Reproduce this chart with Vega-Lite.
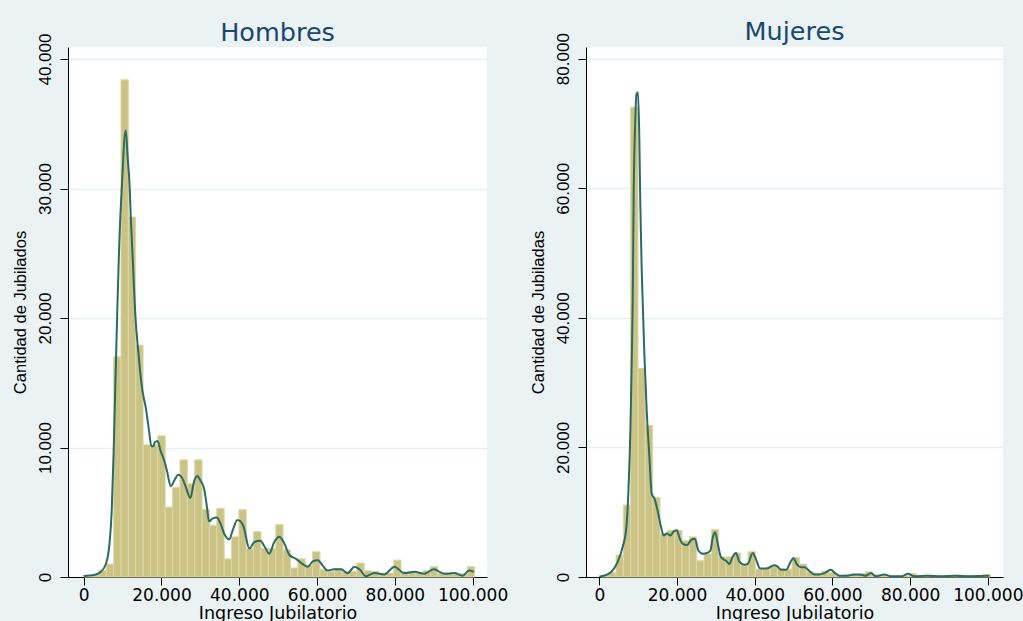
{
  "$schema": "https://vega.github.io/schema/vega-lite/v6.json",
  "background": "#eaf2f3",
  "padding": {"left": 11, "top": 20, "right": 0, "bottom": 0},
  "bounds": "flush",
  "spacing": 99,
  "config": {
    "view": {"fill": "white", "stroke": null},
    "axis": {"domainColor": "#000000", "tickColor": "#000000", "labelColor": "#000000", "titleColor": "#000000", "titleFontWeight": "normal", "tickSize": 8},
    "axisY": {"labelAngle": 270, "labelAlign": "center", "labelBaseline": "bottom", "labelFont": "Liberation Sans", "labelFontSize": 17, "labelPadding": 6, "titleFont": "Liberation Sans", "titleFontSize": 16.5, "titlePadding": 8, "grid": true, "gridColor": "#e6eff1", "gridWidth": 1.5},
    "axisX": {"labelFont": "DejaVu Sans", "labelFontSize": 17, "labelPadding": 2, "titleFont": "DejaVu Sans", "titleFontSize": 17.5, "titlePadding": 1, "grid": false, "labelFlush": false, "labelOverlap": false},
    "title": {"font": "DejaVu Sans", "fontSize": 25.5, "fontWeight": "normal", "color": "#1a476f", "anchor": "middle", "offset": -13}
  },
  "datasets": {
    "hBars": [
      {"lo": 110, "hi": 2005, "n": 50}, {"lo": 2005, "hi": 3900, "n": 100}, {"lo": 3900, "hi": 5795, "n": 500}, {"lo": 5795, "hi": 7690, "n": 1000},
      {"lo": 7690, "hi": 9585, "n": 17000}, {"lo": 9585, "hi": 11480, "n": 38400}, {"lo": 11480, "hi": 13375, "n": 27800}, {"lo": 13375, "hi": 15270, "n": 17900},
      {"lo": 15270, "hi": 17165, "n": 10200}, {"lo": 17165, "hi": 19060, "n": 10200}, {"lo": 19060, "hi": 20955, "n": 10900}, {"lo": 20955, "hi": 22850, "n": 5400},
      {"lo": 22850, "hi": 24745, "n": 6900}, {"lo": 24745, "hi": 26640, "n": 9050}, {"lo": 26640, "hi": 28535, "n": 7200}, {"lo": 28535, "hi": 30430, "n": 9050},
      {"lo": 30430, "hi": 32325, "n": 5200}, {"lo": 32325, "hi": 34220, "n": 4000}, {"lo": 34220, "hi": 36115, "n": 5300}, {"lo": 36115, "hi": 38010, "n": 1400},
      {"lo": 38010, "hi": 39905, "n": 3100}, {"lo": 39905, "hi": 41800, "n": 5200}, {"lo": 41800, "hi": 43695, "n": 2200}, {"lo": 43695, "hi": 45590, "n": 3500},
      {"lo": 45590, "hi": 47485, "n": 2200}, {"lo": 47485, "hi": 49380, "n": 2200}, {"lo": 49380, "hi": 51275, "n": 4050}, {"lo": 51275, "hi": 53170, "n": 2100},
      {"lo": 53170, "hi": 55065, "n": 700}, {"lo": 55065, "hi": 56960, "n": 1400}, {"lo": 56960, "hi": 58855, "n": 900}, {"lo": 58855, "hi": 60750, "n": 1950},
      {"lo": 60750, "hi": 62645, "n": 600}, {"lo": 62645, "hi": 64540, "n": 420}, {"lo": 64540, "hi": 66435, "n": 650}, {"lo": 66435, "hi": 68330, "n": 380},
      {"lo": 68330, "hi": 70225, "n": 450}, {"lo": 70225, "hi": 72120, "n": 1080}, {"lo": 72120, "hi": 74015, "n": 480}, {"lo": 74015, "hi": 75910, "n": 450},
      {"lo": 75910, "hi": 77805, "n": 300}, {"lo": 77805, "hi": 79700, "n": 300}, {"lo": 79700, "hi": 81595, "n": 1300}, {"lo": 81595, "hi": 83490, "n": 400},
      {"lo": 83490, "hi": 85385, "n": 400}, {"lo": 85385, "hi": 87280, "n": 300}, {"lo": 87280, "hi": 89175, "n": 500}, {"lo": 89175, "hi": 91070, "n": 800},
      {"lo": 91070, "hi": 92965, "n": 300}, {"lo": 92965, "hi": 94860, "n": 300}, {"lo": 94860, "hi": 96755, "n": 300}, {"lo": 96755, "hi": 98650, "n": 250},
      {"lo": 98650, "hi": 100545, "n": 800}
    ],
    "hDens": [
      {"x": 0, "y": 50}, {"x": 200, "y": 80}, {"x": 2700, "y": 150}, {"x": 4400, "y": 400}, {"x": 5700, "y": 1000}, {"x": 6600, "y": 2500},
      {"x": 7200, "y": 5100}, {"x": 7700, "y": 9700}, {"x": 8100, "y": 14400}, {"x": 8700, "y": 21300}, {"x": 9000, "y": 24400}, {"x": 9300, "y": 27000},
      {"x": 9700, "y": 29500}, {"x": 10800, "y": 34500}, {"x": 11300, "y": 32400}, {"x": 11800, "y": 30200}, {"x": 12100, "y": 27800}, {"x": 12600, "y": 24600},
      {"x": 13300, "y": 20100}, {"x": 14000, "y": 17500}, {"x": 14500, "y": 15900}, {"x": 15100, "y": 14400}, {"x": 16000, "y": 13000}, {"x": 16800, "y": 11300},
      {"x": 17400, "y": 10100}, {"x": 17900, "y": 10100}, {"x": 18300, "y": 10400}, {"x": 19000, "y": 10500}, {"x": 19800, "y": 9700}, {"x": 20700, "y": 9000},
      {"x": 21400, "y": 8200}, {"x": 22400, "y": 7000}, {"x": 23200, "y": 7400}, {"x": 24300, "y": 7900}, {"x": 25200, "y": 7700}, {"x": 26200, "y": 7000},
      {"x": 27400, "y": 6100}, {"x": 28400, "y": 7400}, {"x": 29200, "y": 7800}, {"x": 30100, "y": 7400}, {"x": 30900, "y": 6900}, {"x": 31600, "y": 5600},
      {"x": 32200, "y": 4300}, {"x": 33100, "y": 4500}, {"x": 34200, "y": 4600}, {"x": 35200, "y": 4100}, {"x": 36200, "y": 3300}, {"x": 37400, "y": 2900},
      {"x": 38300, "y": 3600}, {"x": 39500, "y": 4400}, {"x": 40300, "y": 4300}, {"x": 41100, "y": 3900}, {"x": 42600, "y": 2200}, {"x": 43900, "y": 2700},
      {"x": 45400, "y": 2800}, {"x": 46600, "y": 2300}, {"x": 47700, "y": 1800}, {"x": 49000, "y": 2700}, {"x": 50300, "y": 3100}, {"x": 51400, "y": 2700},
      {"x": 52900, "y": 1700}, {"x": 54600, "y": 1400}, {"x": 56300, "y": 1000}, {"x": 57600, "y": 800}, {"x": 58900, "y": 1200}, {"x": 60200, "y": 1300},
      {"x": 61400, "y": 900}, {"x": 62700, "y": 500}, {"x": 64400, "y": 600}, {"x": 66200, "y": 600}, {"x": 67900, "y": 300}, {"x": 69600, "y": 800},
      {"x": 70900, "y": 600}, {"x": 72600, "y": 50}, {"x": 74700, "y": 300}, {"x": 77300, "y": 200}, {"x": 79900, "y": 800}, {"x": 82400, "y": 300},
      {"x": 85000, "y": 400}, {"x": 87600, "y": 250}, {"x": 90000, "y": 600}, {"x": 92700, "y": 250}, {"x": 95300, "y": 300}, {"x": 97400, "y": 100},
      {"x": 99100, "y": 500}, {"x": 100300, "y": 400}
    ],
    "mBars": [
      {"lo": 520, "hi": 2408, "n": 150}, {"lo": 2408, "hi": 4296, "n": 700}, {"lo": 4296, "hi": 6184, "n": 3400}, {"lo": 6184, "hi": 8072, "n": 11100},
      {"lo": 8072, "hi": 9960, "n": 72500}, {"lo": 9960, "hi": 11848, "n": 32200}, {"lo": 11848, "hi": 13736, "n": 23400}, {"lo": 13736, "hi": 15624, "n": 12300},
      {"lo": 15624, "hi": 17512, "n": 6700}, {"lo": 17512, "hi": 19400, "n": 7200}, {"lo": 19400, "hi": 21288, "n": 7200}, {"lo": 21288, "hi": 23176, "n": 5600},
      {"lo": 23176, "hi": 25064, "n": 6200}, {"lo": 25064, "hi": 26952, "n": 2500}, {"lo": 26952, "hi": 28840, "n": 3600}, {"lo": 28840, "hi": 30728, "n": 7300},
      {"lo": 30728, "hi": 32616, "n": 3100}, {"lo": 32616, "hi": 34504, "n": 3100}, {"lo": 34504, "hi": 36392, "n": 3700}, {"lo": 36392, "hi": 38280, "n": 1800},
      {"lo": 38280, "hi": 40168, "n": 3900}, {"lo": 40168, "hi": 42056, "n": 1200}, {"lo": 42056, "hi": 43944, "n": 1300}, {"lo": 43944, "hi": 45832, "n": 1700},
      {"lo": 45832, "hi": 47720, "n": 1300}, {"lo": 47720, "hi": 49608, "n": 1200}, {"lo": 49608, "hi": 51496, "n": 3000}, {"lo": 51496, "hi": 53384, "n": 2000},
      {"lo": 53384, "hi": 55272, "n": 800}, {"lo": 55272, "hi": 57160, "n": 600}, {"lo": 57160, "hi": 59048, "n": 900}, {"lo": 59048, "hi": 60936, "n": 700},
      {"lo": 60936, "hi": 62824, "n": 200}, {"lo": 62824, "hi": 64712, "n": 350}, {"lo": 64712, "hi": 66600, "n": 450}, {"lo": 66600, "hi": 68488, "n": 500},
      {"lo": 68488, "hi": 70376, "n": 800}, {"lo": 70376, "hi": 72264, "n": 350}, {"lo": 72264, "hi": 74152, "n": 300}, {"lo": 74152, "hi": 76040, "n": 200},
      {"lo": 76040, "hi": 77928, "n": 150}, {"lo": 77928, "hi": 79816, "n": 200}, {"lo": 79816, "hi": 81704, "n": 500}, {"lo": 81704, "hi": 83592, "n": 200},
      {"lo": 83592, "hi": 85480, "n": 300}, {"lo": 85480, "hi": 87368, "n": 250}, {"lo": 87368, "hi": 89256, "n": 200}, {"lo": 89256, "hi": 91144, "n": 150},
      {"lo": 91144, "hi": 93032, "n": 300}, {"lo": 93032, "hi": 94920, "n": 300}, {"lo": 94920, "hi": 96808, "n": 200}, {"lo": 96808, "hi": 98696, "n": 200},
      {"lo": 98696, "hi": 100584, "n": 400}
    ],
    "mDens": [
      {"x": 0, "y": 50}, {"x": 440, "y": 100}, {"x": 2150, "y": 400}, {"x": 3400, "y": 1000}, {"x": 4700, "y": 2300}, {"x": 6000, "y": 4600},
      {"x": 6900, "y": 7200}, {"x": 7500, "y": 13300}, {"x": 8000, "y": 22600}, {"x": 8300, "y": 31900}, {"x": 8600, "y": 42200}, {"x": 8850, "y": 59100},
      {"x": 9200, "y": 69400}, {"x": 9600, "y": 74600}, {"x": 9960, "y": 74800}, {"x": 10300, "y": 67900}, {"x": 10550, "y": 57800}, {"x": 10900, "y": 47800},
      {"x": 11200, "y": 42000}, {"x": 11600, "y": 34400}, {"x": 12200, "y": 25700}, {"x": 12900, "y": 18500}, {"x": 13500, "y": 12800}, {"x": 14200, "y": 12100},
      {"x": 15000, "y": 10300}, {"x": 15900, "y": 7700}, {"x": 16600, "y": 6400}, {"x": 17400, "y": 6700}, {"x": 18300, "y": 6400}, {"x": 19100, "y": 7000},
      {"x": 20000, "y": 7200}, {"x": 20600, "y": 6100}, {"x": 21500, "y": 5100}, {"x": 22600, "y": 4900}, {"x": 23600, "y": 5700}, {"x": 24600, "y": 5900},
      {"x": 25500, "y": 4100}, {"x": 26600, "y": 3600}, {"x": 27700, "y": 3700}, {"x": 28600, "y": 4100}, {"x": 29200, "y": 6100}, {"x": 29800, "y": 6900},
      {"x": 30500, "y": 5100}, {"x": 31300, "y": 3100}, {"x": 32600, "y": 2500}, {"x": 33500, "y": 2000}, {"x": 34300, "y": 3100}, {"x": 35200, "y": 3700},
      {"x": 36000, "y": 2400}, {"x": 37300, "y": 1900}, {"x": 38200, "y": 2000}, {"x": 39500, "y": 3700}, {"x": 40300, "y": 2800}, {"x": 41400, "y": 1300},
      {"x": 42500, "y": 1300}, {"x": 43500, "y": 1400}, {"x": 44900, "y": 1800}, {"x": 45900, "y": 1600}, {"x": 46800, "y": 1100}, {"x": 48100, "y": 1100},
      {"x": 49200, "y": 2300}, {"x": 50000, "y": 2900}, {"x": 50900, "y": 1900}, {"x": 51900, "y": 1500}, {"x": 52900, "y": 1500}, {"x": 54100, "y": 900},
      {"x": 55300, "y": 400}, {"x": 56600, "y": 400}, {"x": 57900, "y": 600}, {"x": 59600, "y": 1100}, {"x": 60700, "y": 600}, {"x": 61800, "y": 200},
      {"x": 63900, "y": 200}, {"x": 65600, "y": 400}, {"x": 67400, "y": 350}, {"x": 68600, "y": 200}, {"x": 69900, "y": 600}, {"x": 71200, "y": 100},
      {"x": 73400, "y": 400}, {"x": 75100, "y": 100}, {"x": 77700, "y": 100}, {"x": 79500, "y": 500}, {"x": 81100, "y": 100}, {"x": 84500, "y": 200},
      {"x": 88000, "y": 100}, {"x": 91400, "y": 200}, {"x": 94800, "y": 100}, {"x": 98200, "y": 150}, {"x": 100400, "y": 200}
    ]
  },
  "hconcat": [
    {
      "width": 419,
      "height": 530,
      "title": {"text": "Hombres"},
      "layer": [
        {
          "data": {"name": "hBars"},
          "mark": {"type": "rect", "fill": "#cbc386", "stroke": "#ddd8a8", "strokeWidth": 1},
          "encoding": {
            "x": {"field": "lo", "type": "quantitative", "title": "Ingreso Jubilatorio", "scale": {"domain": [-4040, 103700], "nice": false, "zero": false},
                  "axis": {"values": [0, 20000, 40000, 60000, 80000, 100000], "labelExpr": "replace(format(datum.value, ',.0f'), ',', '.')"}},
            "x2": {"field": "hi"},
            "y": {"field": "n", "type": "quantitative", "title": "Cantidad de Jubilados", "scale": {"domain": [0, 40930], "nice": false},
                  "axis": {"values": [0, 10000, 20000, 30000, 40000], "labelExpr": "replace(format(datum.value, ',.0f'), ',', '.')"}},
            "y2": {"datum": 0}
          }
        },
        {
          "data": {"name": "hDens"},
          "mark": {"type": "line", "color": "#2a6b62", "strokeWidth": 2, "interpolate": "monotone"},
          "encoding": {
            "x": {"field": "x", "type": "quantitative", "title": "Ingreso Jubilatorio"},
            "y": {"field": "y", "type": "quantitative", "title": "Cantidad de Jubilados"}
          }
        }
      ]
    },
    {
      "width": 417,
      "height": 530,
      "title": {"text": "Mujeres"},
      "layer": [
        {
          "data": {"name": "mBars"},
          "mark": {"type": "rect", "fill": "#cbc386", "stroke": "#ddd8a8", "strokeWidth": 1},
          "encoding": {
            "x": {"field": "lo", "type": "quantitative", "title": "Ingreso Jubilatorio", "scale": {"domain": [-3420, 103900], "nice": false, "zero": false},
                  "axis": {"values": [0, 20000, 40000, 60000, 80000, 100000], "labelExpr": "replace(format(datum.value, ',.0f'), ',', '.')"}},
            "x2": {"field": "hi"},
            "y": {"field": "n", "type": "quantitative", "title": "Cantidad de Jubiladas", "scale": {"domain": [0, 81800], "nice": false},
                  "axis": {"values": [0, 20000, 40000, 60000, 80000], "labelExpr": "replace(format(datum.value, ',.0f'), ',', '.')"}},
            "y2": {"datum": 0}
          }
        },
        {
          "data": {"name": "mDens"},
          "mark": {"type": "line", "color": "#2a6b62", "strokeWidth": 2, "interpolate": "monotone"},
          "encoding": {
            "x": {"field": "x", "type": "quantitative", "title": "Ingreso Jubilatorio"},
            "y": {"field": "y", "type": "quantitative", "title": "Cantidad de Jubiladas"}
          }
        }
      ]
    }
  ]
}
